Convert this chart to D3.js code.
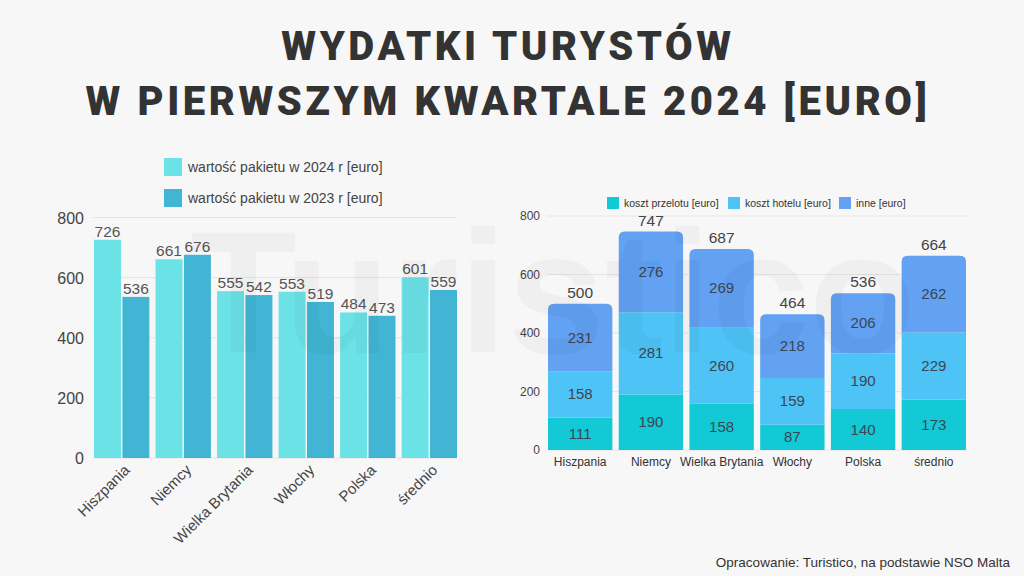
<!DOCTYPE html>
<html>
<head>
<meta charset="utf-8">
<script src="https://cdn.jsdelivr.net/npm/d3@7"></script>
<style>
  body { margin: 0; background: #f7f7f7; }
  svg { display: block; }
</style>
</head>
<body>
<svg id="chart" width="1024" height="576"></svg>
<script>
// data
const countries = ["Hiszpania", "Niemcy", "Wielka Brytania", "Włochy", "Polska", "średnio"];
const pakiet2024 = [726, 661, 555, 553, 484, 601];
const pakiet2023 = [536, 676, 542, 519, 473, 559];
const przelot = [111, 190, 158, 87, 140, 173];
const hotel = [158, 281, 260, 159, 190, 229];
const inne = [231, 276, 269, 218, 206, 262];
const totals = [500, 747, 687, 464, 536, 664];
const yTicks = [0, 200, 400, 600, 800];

const font = "'Liberation Sans', Arial, sans-serif";
const svg = d3.select("#chart");

svg.append("rect").attr("width", 1024).attr("height", 576).attr("fill", "#f7f7f7");

// title
const title = svg.append("g").attr("font-family", "Roboto, 'Liberation Sans', sans-serif")
    .attr("font-weight", 900).attr("font-size", 40).attr("fill", "#333")
    .attr("text-anchor", "middle").style("letter-spacing", "3.6px");
title.append("text").attr("x", 508).attr("y", 60).text("WYDATKI TURYSTÓW");
title.append("text").attr("x", 508).attr("y", 115).text("W PIERWSZYM KWARTALE 2024 [EURO]");

// ---------- left chart: grouped bars ----------
const c2024 = "#6ae2e6", c2023 = "#42b5d5";
const left = svg.append("g");
const x0 = d3.scaleBand().domain(countries).range([94, 457]).paddingInner(0.1);
const x1 = d3.scaleBand().domain(["2024", "2023"]).range([0, x0.bandwidth()]).paddingInner(0.05);
const yL = d3.scaleLinear().domain([0, 800]).range([458, 217.5]);

left.append("g").selectAll("line").data(yTicks).join("line")
    .attr("x1", 93).attr("x2", 457)
    .attr("y1", d => yL(d)).attr("y2", d => yL(d))
    .attr("stroke", "#e3e3e3").attr("stroke-width", 1);

left.append("g").selectAll("text").data(yTicks).join("text")
    .attr("x", 84).attr("y", d => yL(d) + 6)
    .attr("text-anchor", "end").attr("font-family", font).attr("font-size", 16)
    .attr("fill", "#444").text(d => d);

const groups = left.append("g").selectAll("g").data(countries).join("g")
    .attr("transform", d => `translate(${x0(d)},0)`);

[["2024", pakiet2024, c2024], ["2023", pakiet2023, c2023]].forEach(([key, vals, col]) => {
    groups.append("rect")
        .attr("x", x1(key)).attr("width", x1.bandwidth())
        .attr("y", (d, i) => yL(vals[i]))
        .attr("height", (d, i) => yL(0) - yL(vals[i]))
        .attr("fill", col);
    groups.append("text")
        .attr("x", x1(key) + x1.bandwidth() / 2)
        .attr("y", (d, i) => yL(vals[i]) - 3)
        .attr("text-anchor", "middle").attr("font-family", font).attr("font-size", 15.5)
        .attr("fill", "#555").text((d, i) => vals[i]);
});

left.append("g").selectAll("text").data(countries).join("text")
    .attr("transform", d => `translate(${x0(d) + x0.bandwidth() / 2 + 9},471) rotate(-45)`)
    .attr("text-anchor", "end").attr("font-family", font).attr("font-size", 15)
    .attr("fill", "#444").text(d => d);

// left legend
const legL = [["wartość pakietu w 2024 r [euro]", c2024], ["wartość pakietu w 2023 r [euro]", c2023]];
const lg = left.append("g").selectAll("g").data(legL).join("g")
    .attr("transform", (d, i) => `translate(164,${158 + i * 31})`);
lg.append("rect").attr("width", 18).attr("height", 18).attr("fill", d => d[1]);
lg.append("text").attr("x", 24).attr("y", 14).attr("font-family", font).attr("font-size", 14)
    .attr("fill", "#444").text(d => d[0]);

// ---------- right chart: stacked bars ----------
const keys = ["przelot", "hotel", "inne"];
const colors = { przelot: "#12c9d5", hotel: "#4dc3f6", inne: "#63a1f3" };
const rows = countries.map((c, i) => ({ country: c, przelot: przelot[i], hotel: hotel[i], inne: inne[i] }));
const layers = d3.stack().keys(keys)(rows);

const right = svg.append("g");
const xR = d3.scaleBand().domain(countries).range([548, 966]).paddingInner(0.09);
const yR = d3.scaleLinear().domain([0, 800]).range([450, 216]);

right.append("g").selectAll("line").data(yTicks).join("line")
    .attr("x1", 547).attr("x2", 967)
    .attr("y1", d => yR(d)).attr("y2", d => yR(d))
    .attr("stroke", "#e6e6e6").attr("stroke-width", 1);

right.append("g").selectAll("text").data(yTicks).join("text")
    .attr("x", 540).attr("y", d => yR(d) + 4)
    .attr("text-anchor", "end").attr("font-family", font).attr("font-size", 12)
    .attr("fill", "#444").text(d => d);

const r = 6;
function segPath(d, top) {
    const x = xR(d.data.country), w = xR.bandwidth();
    const y0 = yR(d[0]), y1 = yR(d[1]);
    if (!top) return `M${x},${y0}V${y1}H${x + w}V${y0}Z`;
    return `M${x},${y0}V${y1 + r}Q${x},${y1} ${x + r},${y1}H${x + w - r}Q${x + w},${y1} ${x + w},${y1 + r}V${y0}Z`;
}

layers.forEach((layer, li) => {
    const g = right.append("g");
    g.selectAll("path").data(layer).join("path")
        .attr("d", d => segPath(d, li === layers.length - 1))
        .attr("fill", colors[layer.key]);
    g.selectAll("text").data(layer).join("text")
        .attr("x", d => xR(d.data.country) + xR.bandwidth() / 2)
        .attr("y", d => (yR(d[0]) + yR(d[1])) / 2 + 5)
        .attr("text-anchor", "middle").attr("font-family", font).attr("font-size", 15)
        .attr("fill", "#3b4654").text(d => d[1] - d[0]);
});

right.append("g").selectAll("text").data(countries).join("text")
    .attr("x", d => xR(d) + xR.bandwidth() / 2)
    .attr("y", (d, i) => yR(totals[i]) - 6)
    .attr("text-anchor", "middle").attr("font-family", font).attr("font-size", 15.5)
    .attr("fill", "#444").text((d, i) => totals[i]);

right.append("g").selectAll("text").data(countries).join("text")
    .attr("x", d => xR(d) + xR.bandwidth() / 2).attr("y", 466)
    .attr("text-anchor", "middle").attr("font-family", font).attr("font-size", 12)
    .attr("fill", "#333").text(d => d);

// right legend
const legR = [["koszt przelotu [euro]", colors.przelot, 607], ["koszt hotelu [euro]", colors.hotel, 728], ["inne [euro]", colors.inne, 839]];
const rg = right.append("g").selectAll("g").data(legR).join("g")
    .attr("transform", d => `translate(${d[2]},197)`);
rg.append("rect").attr("width", 12).attr("height", 12).attr("fill", d => d[1]);
rg.append("text").attr("x", 17).attr("y", 10).attr("font-family", font).attr("font-size", 10.5)
    .attr("fill", "#333").text(d => d[0]);

// watermark
svg.append("text").attr("x", 190).attr("y", 353)
    .attr("font-family", font).attr("font-weight", "bold").attr("font-size", 175)
    .attr("fill", "#000").attr("fill-opacity", 0.03).text("Turistico");

// footer
svg.append("text").attr("x", 1010).attr("y", 567).attr("text-anchor", "end")
    .attr("font-family", font).attr("font-size", 13.5).attr("fill", "#333")
    .text("Opracowanie: Turistico, na podstawie NSO Malta");
</script>
</body>
</html>
